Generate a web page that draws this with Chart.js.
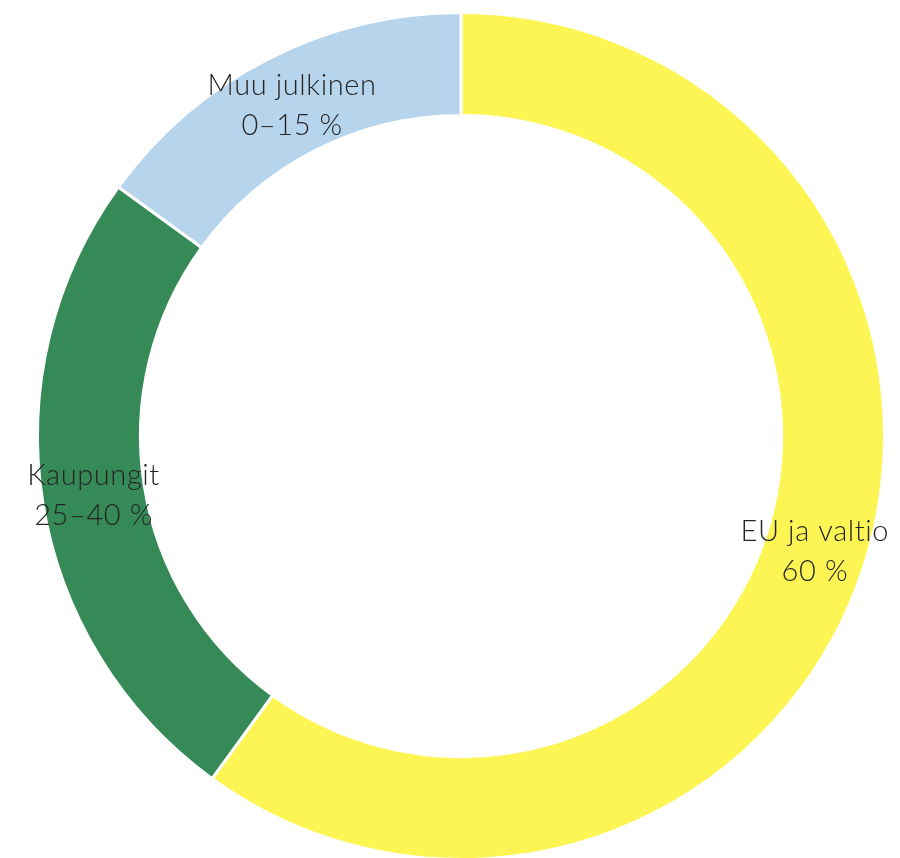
<!DOCTYPE html>
<html>
<head>
<meta charset="utf-8">
<script src="https://cdn.jsdelivr.net/npm/chart.js@4"></script>
<style>
  html, body { margin: 0; padding: 0; background: #ffffff; overflow: hidden; }
  #wrap { width: 900px; height: 858px; position: relative; overflow: hidden; }
</style>
</head>
<body>
<div id="wrap"><canvas id="c" width="900" height="864"></canvas></div>
<script>
const categories = ["EU ja valtio", "Kaupungit", "Muu julkinen"];
const shareLabels = ["60 %", "25–40 %", "0–15 %"];
const values = [60, 25, 15];
const colors = ["#FDF554", "#368A57", "#B6D4EC"];

const labelPlugin = {
  id: 'sliceLabels',
  afterDatasetsDraw(chart) {
    const ctx = chart.ctx;
    const meta = chart.getDatasetMeta(0);
    ctx.save();
    ctx.font = '300 29px "Lato", "Open Sans", sans-serif';
    if ('letterSpacing' in ctx) ctx.letterSpacing = '0.6px';
    ctx.fillStyle = '#262626';
    ctx.textAlign = 'center';
    ctx.textBaseline = 'middle';
    meta.data.forEach((arc, i) => {
      const p = arc.getCenterPoint();
      ctx.fillText(categories[i], p.x, p.y - 19);
      ctx.fillText(shareLabels[i], p.x, p.y + 21);
    });
    ctx.restore();
  }
};

new Chart(document.getElementById('c'), {
  type: 'doughnut',
  data: {
    labels: categories,
    datasets: [{
      data: values,
      backgroundColor: colors,
      borderColor: '#ffffff',
      borderWidth: 3,
      hoverOffset: 0
    }]
  },
  options: {
    responsive: false,
    animation: false,
    cutout: '75.7%',
    layout: { padding: { left: 34, right: 12, top: 11, bottom: 3 } },
    plugins: {
      legend: { display: false },
      tooltip: { enabled: false }
    }
  },
  plugins: [labelPlugin]
});
</script>
</body>
</html>
